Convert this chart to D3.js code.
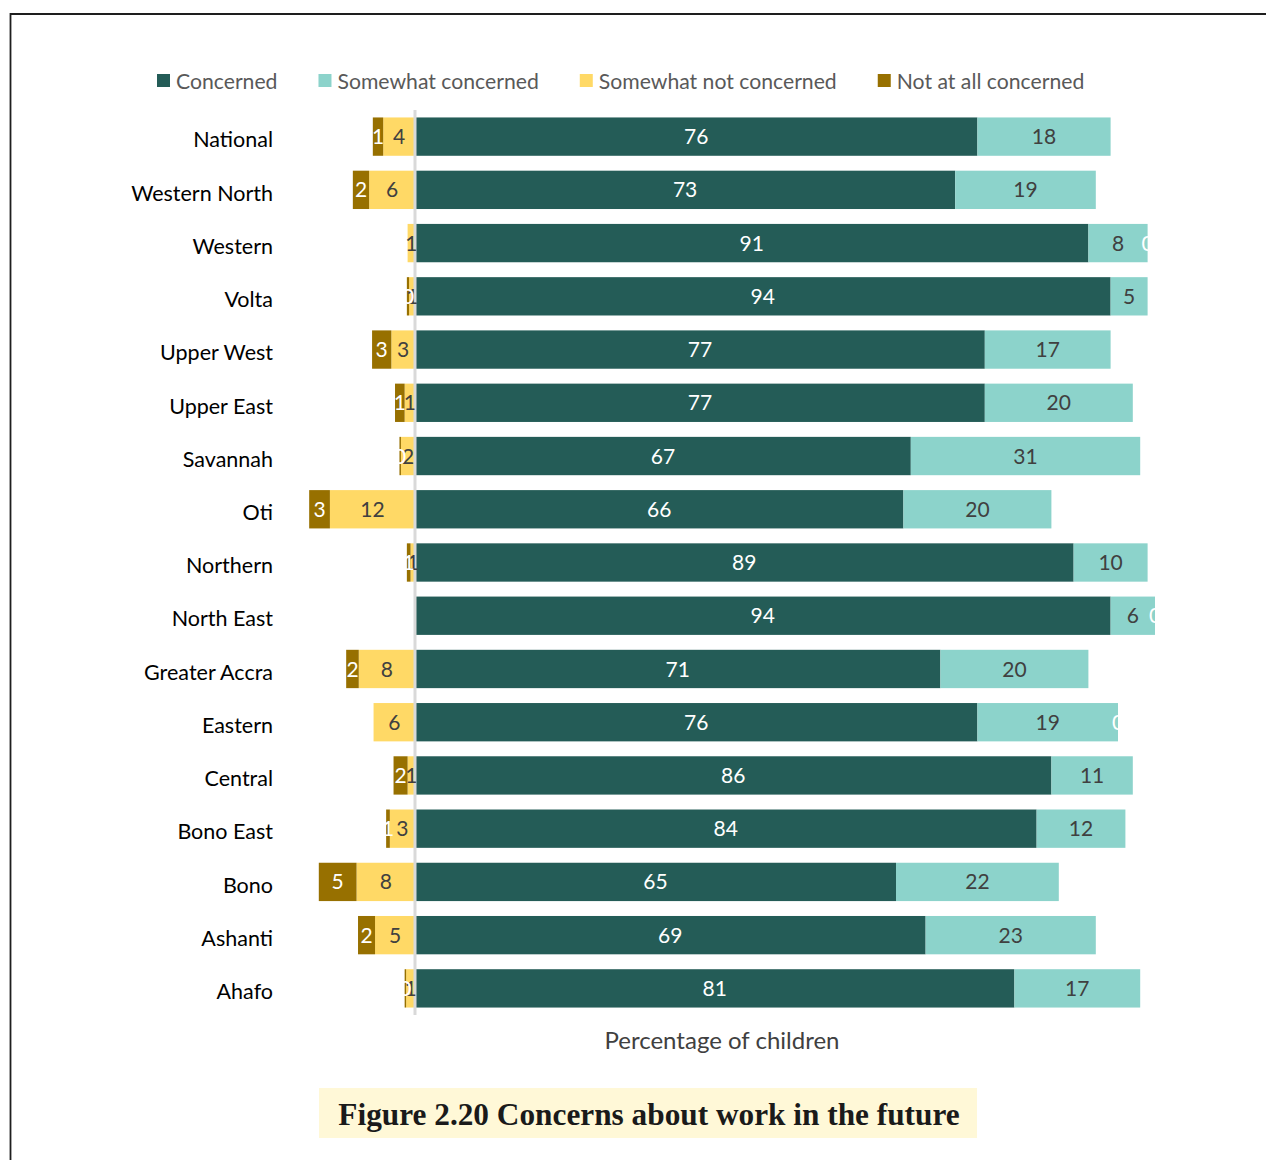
<!DOCTYPE html>
<html>
<head>
<meta charset="utf-8">
<script src="https://cdn.jsdelivr.net/npm/d3@7"></script>
<style>
  html, body { margin: 0; padding: 0; background: #fff; }
  svg { display: block; }
</style>
</head>
<body>
<svg id="chart" width="1266" height="1160"></svg>
<script>
// Regions, top to bottom
const regions = ["National", "Western North", "Western", "Volta", "Upper West", "Upper East",
  "Savannah", "Oti", "Northern", "North East", "Greater Accra", "Eastern", "Central",
  "Bono East", "Bono", "Ashanti", "Ahafo"];

// Percentage of children in each concern category
const concerned          = [76, 73, 91, 94, 77, 77, 67, 66, 89, 94, 71, 76, 86, 84, 65, 69, 81];
const somewhatConcerned  = [18, 19, 8, 5, 17, 20, 31, 20, 10, 6, 20, 19, 11, 12, 22, 23, 17];
const somewhatNot        = [4.3, 6.2, 1.0, 0.8, 3.2, 1.4, 1.9, 11.5, 0.6, null, 7.6, 5.6, 1.0, 3.4, 7.9, 5.4, 1.2];
const notAtAll           = [1.4, 2.2, null, 0.3, 2.6, 1.3, 0.2, 2.8, 0.5, null, 1.7, null, 1.9, 0.5, 5.1, 2.3, 0.2];
// Unlabelled residual series, zero-width, only its data labels appear
const residual           = [null, null, 0, null, null, null, null, null, null, 0, null, 0, null, null, null, null, null];

const seriesNames  = ["Concerned", "Somewhat concerned", "Somewhat not concerned", "Not at all concerned"];
const seriesColors = ["#245c57", "#8cd3cb", "#ffd966", "#977000"];
const labelColors  = ["#ffffff", "#404040", "#404040", "#ffffff"];

const svg = d3.select("#chart");
const FONT = "Lato, 'Open Sans', sans-serif";

// Frame lines
svg.append("path")
  .attr("d", "M10.5,1160 V14 H1266")
  .attr("fill", "none")
  .attr("stroke", "#1e1e1e")
  .attr("stroke-width", 1.8);

const x = d3.scaleLinear().domain([-15, 100]).range([304, 1155]);
const y = d3.scaleBand().domain(regions).range([110, 1015])
  .paddingInner(0.28).paddingOuter(0.14);

// Build segments per region
const segments = [];
regions.forEach((r, i) => {
  const c = concerned[i], s = somewhatConcerned[i];
  segments.push({ r, k: 0, v: c, x0: 0, x1: c });
  segments.push({ r, k: 1, v: s, x0: c, x1: c + s });
  if (somewhatNot[i] !== null) {
    const sn = somewhatNot[i];
    segments.push({ r, k: 2, v: sn, x0: -sn, x1: 0 });
    if (notAtAll[i] !== null) {
      segments.push({ r, k: 3, v: notAtAll[i], x0: -sn - notAtAll[i], x1: -sn });
    }
  }
  if (residual[i] !== null) {
    segments.push({ r, k: 4, v: residual[i], x0: c + s, x1: c + s + residual[i] });
  }
});

const g = svg.append("g");

g.selectAll("rect.seg")
  .data(segments.filter(d => d.k < 4 && d.v > 0))
  .join("rect")
  .attr("class", "seg")
  .attr("x", d => x(d.x0))
  .attr("width", d => Math.max(0, x(d.x1) - x(d.x0)))
  .attr("y", d => y(d.r))
  .attr("height", y.bandwidth())
  .attr("fill", d => seriesColors[d.k]);

// Zero axis line
g.append("line")
  .attr("x1", x(0)).attr("x2", x(0))
  .attr("y1", 110).attr("y2", 1015)
  .attr("stroke", "#d9d9d9")
  .attr("stroke-width", 3);

// Data labels centred on each segment
g.selectAll("text.val")
  .data(segments)
  .join("text")
  .attr("class", "val")
  .attr("x", d => x((d.x0 + d.x1) / 2))
  .attr("y", d => y(d.r) + y.bandwidth() / 2)
  .attr("dy", "0.36em")
  .attr("text-anchor", "middle")
  .attr("font-family", FONT)
  .attr("font-size", 21)
  .attr("fill", d => d.k === 4 ? "#ffffff" : labelColors[d.k])
  .text(d => Math.round(d.v));

// Category labels
svg.append("g")
  .selectAll("text")
  .data(regions)
  .join("text")
  .attr("x", 273)
  .attr("y", d => y(d) + y.bandwidth() / 2 + 3)
  .attr("dy", "0.36em")
  .attr("text-anchor", "end")
  .attr("font-family", FONT)
  .attr("font-size", 21.5)
  .attr("fill", "#000")
  .text(d => d);

// Legend
const legend = svg.append("g").attr("transform", "translate(157,81)");
let lx = 0;
seriesNames.forEach((name, i) => {
  const item = legend.append("g").attr("transform", `translate(${lx},0)`);
  item.append("rect")
    .attr("x", 0).attr("y", -7)
    .attr("width", 13).attr("height", 13)
    .attr("fill", seriesColors[i]);
  const t = item.append("text")
    .attr("x", 19).attr("y", 0)
    .attr("dy", "0.36em")
    .attr("font-family", FONT)
    .attr("font-size", 21.2)
    .attr("fill", "#595959")
    .text(name);
  lx += 19 + t.node().getComputedTextLength() + 41;
});

// Axis title
svg.append("text")
  .attr("x", 722).attr("y", 1040)
  .attr("dy", "0.36em")
  .attr("text-anchor", "middle")
  .attr("font-family", FONT)
  .attr("font-size", 24)
  .attr("fill", "#404040")
  .text("Percentage of children");

// Figure caption
svg.append("rect")
  .attr("x", 319).attr("y", 1088)
  .attr("width", 658).attr("height", 50)
  .attr("fill", "#fff8d7");
svg.append("text")
  .attr("x", 649).attr("y", 1114)
  .attr("dy", "0.35em")
  .attr("text-anchor", "middle")
  .attr("font-family", "'Liberation Serif', 'DejaVu Serif', serif")
  .attr("font-weight", "bold")
  .attr("font-size", 31.3)
  .attr("fill", "#1a1a1a")
  .text("Figure 2.20 Concerns about work in the future");
</script>
</body>
</html>
